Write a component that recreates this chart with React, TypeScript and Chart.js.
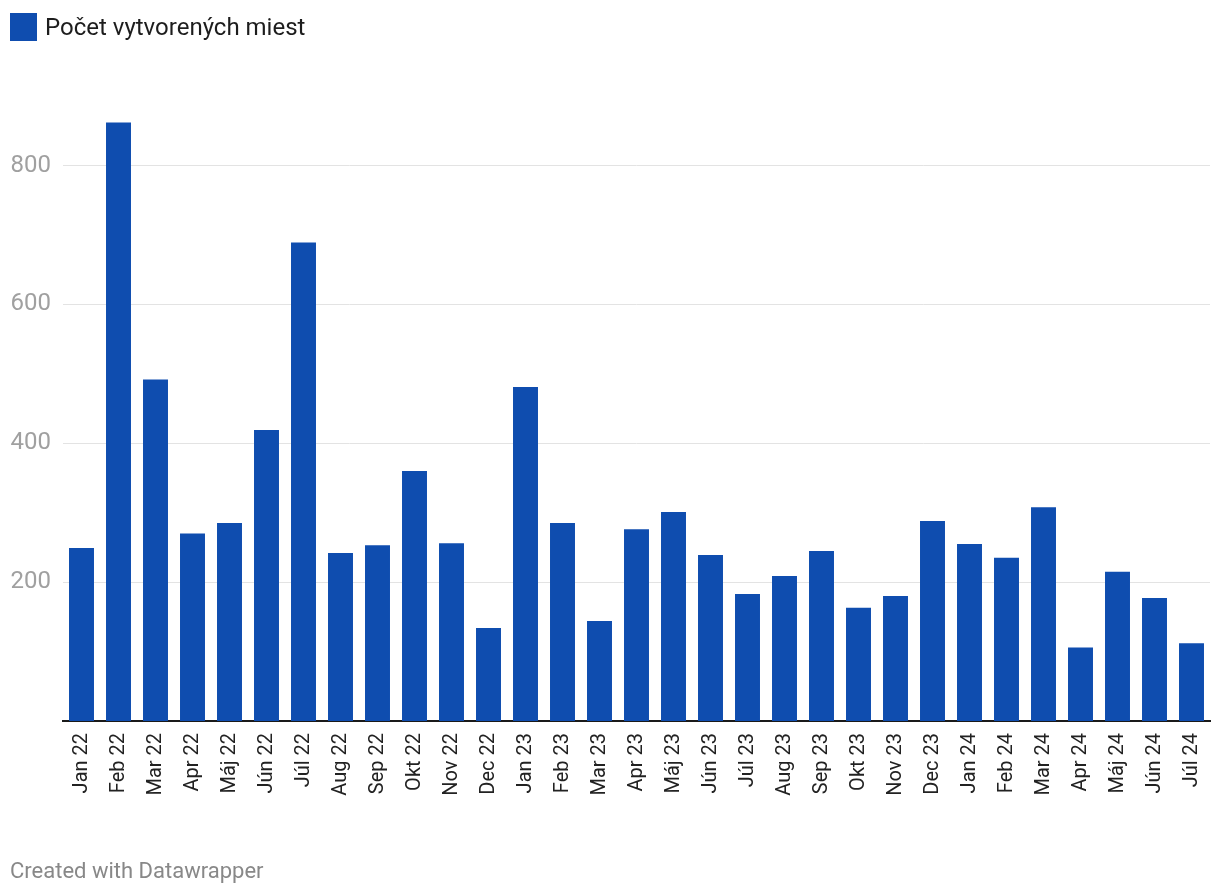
import React, { useEffect, useRef } from "react";
import { Chart, registerables } from "chart.js";

Chart.register(...registerables);

const categories = [
  "Jan 22", "Feb 22", "Mar 22", "Apr 22", "Máj 22", "Jún 22", "Júl 22", "Aug 22", "Sep 22", "Okt 22", "Nov 22", "Dec 22",
  "Jan 23", "Feb 23", "Mar 23", "Apr 23", "Máj 23", "Jún 23", "Júl 23", "Aug 23", "Sep 23", "Okt 23", "Nov 23", "Dec 23",
  "Jan 24", "Feb 24", "Mar 24", "Apr 24", "Máj 24", "Jún 24", "Júl 24",
];

const values = [
  249, 862, 492, 270, 285, 419, 689, 242, 253, 360, 256, 134,
  481, 285, 144, 276, 301, 239, 183, 209, 245, 163, 180, 288,
  255, 235, 308, 106, 215, 177, 112,
];

const yTicks = [200, 400, 600, 800];

const seriesLabel = "Počet vytvorených miest";
const footerText = "Created with Datawrapper";
const barColor = "#0f4daf";
const FONT = "Roboto, 'Noto Sans', sans-serif";

export default function App() {
  const canvasRef = useRef<HTMLCanvasElement | null>(null);

  useEffect(() => {
    document.body.style.margin = "0";
    const ctx = canvasRef.current!.getContext("2d")!;
    const chart = new Chart(ctx, {
      type: "bar",
      data: {
        labels: categories,
        datasets: [
          {
            label: seriesLabel,
            data: values,
            backgroundColor: barColor,
            borderWidth: 0,
            barPercentage: 0.675,
            categoryPercentage: 1,
          },
        ],
      },
      options: {
        animation: false,
        responsive: false,
        maintainAspectRatio: false,
        layout: { padding: { top: 110, right: 10, bottom: 0, left: 0 } },
        plugins: {
          legend: { display: false },
          tooltip: { enabled: false },
        },
        scales: {
          x: {
            grid: { display: false, drawTicks: false },
            border: { display: true, color: "#1a1a1a", width: 2 },
            ticks: {
              color: "#222",
              font: { family: FONT, size: 20 },
              minRotation: 90,
              maxRotation: 90,
              autoSkip: false,
              padding: 12,
            },
            afterFit: (s: any) => {
              s.height = 173;
              s.paddingLeft = 0;
              s.paddingRight = 0;
            },
          },
          y: {
            min: 0,
            max: 880,
            grid: { color: "#e3e3e3", lineWidth: 1, drawTicks: false },
            border: { display: false },
            ticks: {
              color: "#a0a0a0",
              font: { family: FONT, size: 24 },
              padding: 12,
            },
            afterBuildTicks: (s: any) => {
              s.ticks = yTicks.map((v) => ({ value: v }));
            },
            afterFit: (s: any) => {
              s.width = 63;
              s.paddingTop = 0;
              s.paddingBottom = 0;
            },
          },
        },
      },
    });
    return () => chart.destroy();
  }, []);

  return (
    <div style={{ position: "relative", width: 1220, height: 894, background: "#fff", fontFamily: FONT }}>
      <canvas ref={canvasRef} width={1220} height={894} style={{ position: "absolute", left: 0, top: 0 }} />
      <div style={{ position: "absolute", left: 10, top: 13, display: "flex", alignItems: "center" }}>
        <div style={{ width: 27, height: 28, background: barColor }} />
        <span style={{ marginLeft: 8, fontSize: 24, color: "#1d1d1d", lineHeight: "28px" }}>{seriesLabel}</span>
      </div>
      <div style={{ position: "absolute", left: 10, top: 856, fontSize: 22, color: "#888", lineHeight: "30px" }}>
        {footerText}
      </div>
    </div>
  );
}
